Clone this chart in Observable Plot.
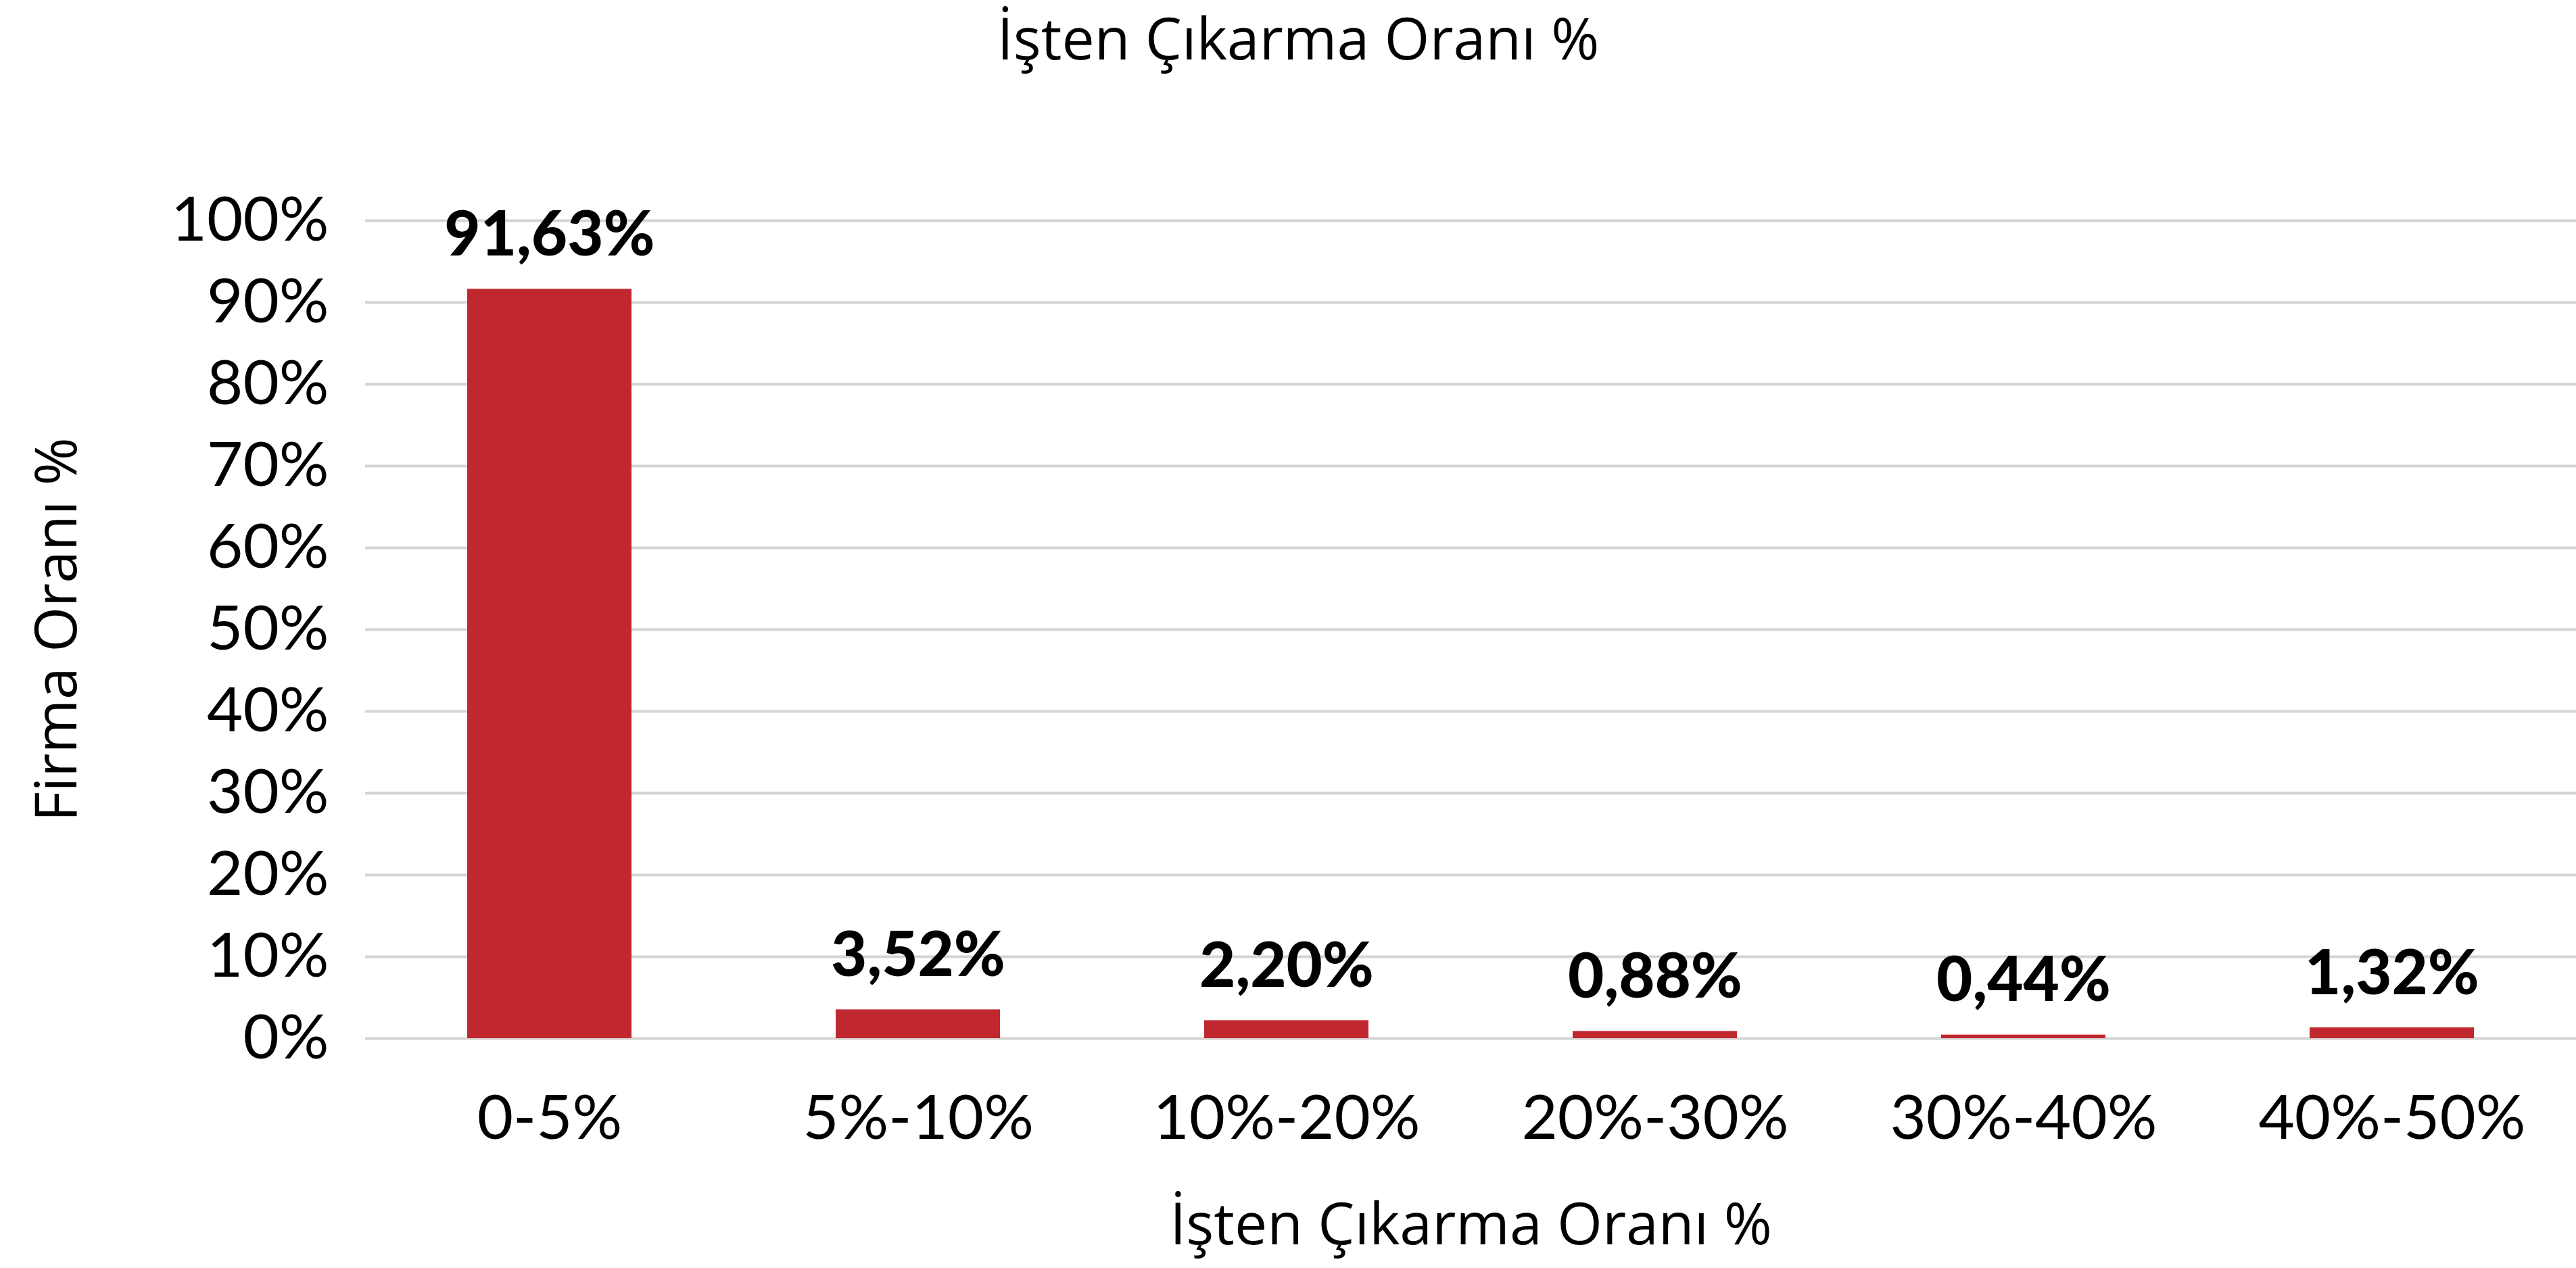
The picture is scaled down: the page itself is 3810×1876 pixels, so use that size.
<!DOCTYPE html>
<html>
<head>
<meta charset="utf-8">
<script src="https://cdn.jsdelivr.net/npm/d3@7"></script>
<script src="https://cdn.jsdelivr.net/npm/@observablehq/plot@0.6"></script>
<style>
  html, body { margin: 0; padding: 0; background: #fff; }
  #title { width: 3810px; height: 110px; line-height: 110px; text-align: center; font-family: "Open Sans", sans-serif; font-size: 86px; color: #000; padding-left: 30px; box-sizing: border-box; }
</style>
</head>
<body>
<div id="title">İşten Çıkarma Oranı %</div>
<div id="chart"></div>
<script>
const categories = ["0-5%", "5%-10%", "10%-20%", "20%-30%", "30%-40%", "40%-50%"];
const values = [91.63, 3.52, 2.20, 0.88, 0.44, 1.32];
const yTicks = [0, 10, 20, 30, 40, 50, 60, 70, 80, 90, 100];
const chartTitle = "İşten Çıkarma Oranı %";
const xTitle = "İşten Çıkarma Oranı %";
const yTitle = "Firma Oranı %";

const data = categories.map((c, i) => ({category: c, value: values[i]}));
const fmt = v => v.toFixed(2).replace(".", ",") + "%";

const chart = Plot.plot({
  width: 3810,
  height: 1766,
  marginTop: 216,
  marginBottom: 340,
  marginLeft: 540,
  marginRight: 0,
  style: {fontFamily: "Lato, sans-serif", fontSize: "92px", color: "#000", background: "#fff"},
  x: {domain: categories, paddingInner: 0.554, paddingOuter: 0.277, label: null},
  y: {domain: [0, 100], label: null},
  marks: [
    Plot.ruleY(yTicks, {stroke: "#d4d4d4", strokeWidth: 4}),
    Plot.barY(data, {x: "category", y: "value", fill: "#c1272f"}),
    Plot.text(data, {x: "category", y: "value", text: d => fmt(d.value), dy: -50, lineAnchor: "bottom", fontFamily: "Lato, sans-serif", fontWeight: 900, fontSize: 92, fill: "#000"}),
    Plot.axisY(yTicks, {tickSize: 0, tickPadding: 54, tickFormat: d => d + "%", fontSize: 92, label: null}),
    Plot.axisX({tickSize: 0, tickPadding: 83, fontSize: 92, label: null}),
    Plot.text([xTitle], {frameAnchor: "bottom", dy: 277, lineAnchor: "middle", fontFamily: "Open Sans, sans-serif", fontSize: 86, fill: "#000"}),
    Plot.text([yTitle], {frameAnchor: "left", dx: -455, rotate: -90, lineAnchor: "middle", textAnchor: "middle", fontFamily: "Open Sans, sans-serif", fontSize: 86, fill: "#000"})
  ]
});
document.getElementById("chart").appendChild(chart);
</script>
</body>
</html>
